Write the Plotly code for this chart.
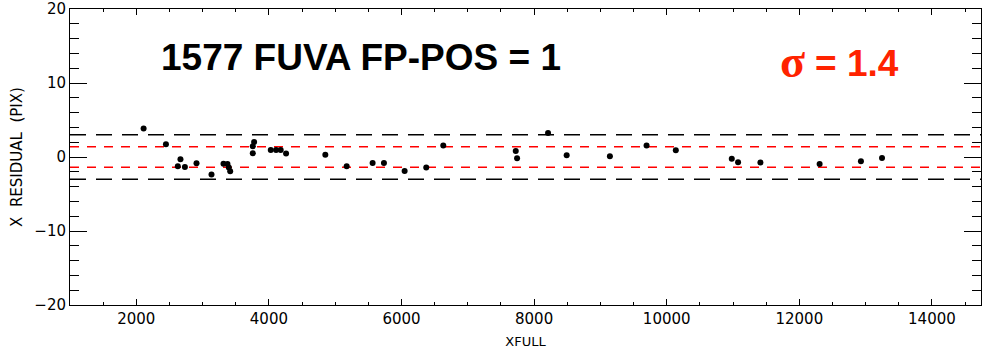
import plotly.graph_objects as go

# Data
xfull = [2110, 2447, 2626, 2666, 2733, 2908, 3134, 3315, 3375, 3395, 3416,
         3757, 3777, 3757, 4028, 4108, 4178, 4259, 4851, 5173, 5564, 5735,
         6047, 6373, 6630, 8210, 7723, 7743, 8491, 9143, 9696, 10137, 10981,
         11076, 11413, 12306, 12929, 13247]
x_residual = [3.84, 1.72, -1.26, -0.31, -1.35, -0.85, -2.38, -0.9, -0.94, -1.43, -1.93,
              1.45, 2.03, 0.5, 0.95, 0.95, 0.95, 0.46, 0.32, -1.26, -0.81, -0.81,
              -1.89, -1.43, 1.54, 3.24, 0.81, -0.18, 0.23, 0.09, 1.54, 0.9, -0.22,
              -0.72, -0.76, -0.95, -0.58, -0.14]
sigma = 1.4
limit = 3.0
x_range = [1000, 14740]
y_range = [-20, 20]
x_ticks = [2000, 4000, 6000, 8000, 10000, 12000, 14000]
x_ticklabels = ["2000", "4000", "6000", "8000", "10000", "12000", "14000"]
y_ticks = [-20, -10, 0, 10, 20]
y_ticklabels = ["\u221220", "\u221210", "0", "10", "20"]
label_text = "1577 FUVA FP-POS = 1"

fig = go.Figure()

# limit lines (black long dash) and sigma lines (red dash)
for v in (limit, -limit):
    fig.add_trace(go.Scatter(x=x_range, y=[v, v], mode="lines",
                             line=dict(color="black", width=1.5, dash="16px,10px"),
                             hoverinfo="skip", showlegend=False))
for v in (sigma, -sigma):
    fig.add_trace(go.Scatter(x=x_range, y=[v, v], mode="lines",
                             line=dict(color="rgb(255,0,0)", width=1.5, dash="9px,8px"),
                             hoverinfo="skip", showlegend=False))

fig.add_trace(go.Scatter(x=xfull, y=x_residual, mode="markers",
                         marker=dict(color="black", size=6),
                         showlegend=False))

fig.add_annotation(x=5396, y=13.4, xref="x", yref="y", text="<b>" + label_text + "</b>",
                   showarrow=False, xanchor="center", yanchor="middle",
                   font=dict(family="Liberation Sans, Arial", size=37, color="black"))
# sigma symbol (serif) and value (bold sans)
fig.add_annotation(x=11685, y=12.9, xref="x", yref="y", text="<b>σ</b>",
                   showarrow=False, xanchor="left", yanchor="middle",
                   font=dict(family="Liberation Serif", size=46, color="rgb(255,35,0)"))
fig.add_annotation(x=12206, y=12.6, xref="x", yref="y", text="<b>= %.1f</b>" % sigma,
                   showarrow=False, xanchor="left", yanchor="middle",
                   font=dict(family="Liberation Sans, Arial", size=37, color="rgb(255,35,0)"))

axis_common = dict(showgrid=False, zeroline=False, showline=True, linecolor="black",
                   linewidth=1, mirror="ticks", ticks="inside", tickcolor="black",
                   automargin=False,
                   tickfont=dict(family="DejaVu Sans", size=15, color="black"))

fig.update_xaxes(range=x_range, tickvals=x_ticks, ticktext=x_ticklabels,
                 ticklen=6, tickwidth=1,
                 minor=dict(dtick=500, tick0=0, ticklen=3, ticks="inside", tickcolor="black"),
                 title=dict(text="XFULL", font=dict(family="DejaVu Sans", size=13, color="black"),
                            standoff=9),
                 **axis_common)
fig.update_yaxes(range=y_range, tickvals=y_ticks, ticktext=y_ticklabels,
                 ticklen=17, tickwidth=1,
                 minor=dict(dtick=2, tick0=0, ticklen=9, ticks="inside", tickcolor="black"),
                 title=dict(text="X  RESIDUAL  (PIX)",
                            font=dict(family="DejaVu Sans", size=15, color="black"),
                            standoff=8),
                 **axis_common)

fig.update_layout(width=994, height=349, margin=dict(l=70, r=13, t=9, b=44),
                  plot_bgcolor="white", paper_bgcolor="white")

fig.write_html("out.html")
